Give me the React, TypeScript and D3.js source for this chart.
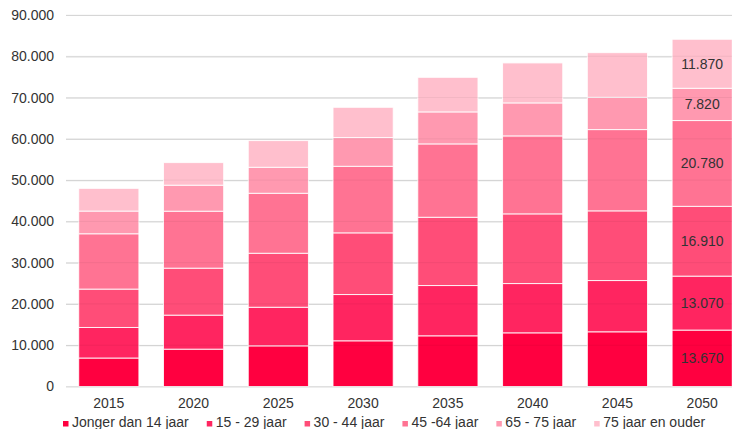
// Bevolking naar leeftijdsgroep — stacked bar chart
import React, { useEffect, useRef } from "react";
import * as d3 from "d3";

const years = ["2015", "2020", "2025", "2030", "2035", "2040", "2045", "2050"];
const groups = ["Jonger dan 14 jaar", "15 - 29 jaar", "30 - 44 jaar", "45 -64 jaar", "65 - 75 jaar", "75 jaar en ouder"];
const jonger14 = [6900, 9050, 9850, 11070, 12280, 13000, 13250, 13670];
const j15to29 = [7400, 8240, 9350, 11210, 12180, 11940, 12420, 13070];
const j30to44 = [9300, 11380, 13080, 14940, 16540, 16880, 16880, 16910];
const j45to64 = [13400, 13800, 14530, 16130, 17770, 18890, 19690, 20780];
const j65to75 = [5500, 6300, 6300, 6950, 7750, 7990, 7820, 7820];
const j75plus = [5500, 5470, 6460, 7340, 8380, 9690, 10820, 11870];
const yTicks = [0, 10000, 20000, 30000, 40000, 50000, 60000, 70000, 80000, 90000];
const labelledYear = "2050";

const colors = ["#ff0040", "#ff2560", "#ff4d78", "#ff7393", "#ff99b0", "#ffbfcd"];

const fmt = (v: number) => d3.format(",")(v).replace(/,/g, ".");

const App: React.FC = () => {
  const svgRef = useRef<SVGSVGElement>(null);

  useEffect(() => {
    if (!svgRef.current) return;
    const W = 732, H = 429;
    const font = "'Liberation Sans', Arial, sans-serif";

    const svg = d3.select(svgRef.current);
    svg.selectAll("*").remove();

    const series = [jonger14, j15to29, j30to44, j45to64, j65to75, j75plus];
    const rows = years.map((yr, i) => {
      const r: Record<string, any> = { year: yr };
      groups.forEach((g, k) => (r[g] = series[k][i]));
      return r;
    });
    const stacked = d3.stack<any>().keys(groups)(rows);

    const x = d3.scaleBand()
      .domain(years)
      .range([66, 745])
      .paddingInner(0.29)
      .paddingOuter(0.15);

    const y = d3.scaleLinear()
      .domain([0, 90000])
      .range([386.5, 15]);

    // Grid + y labels
    const grid = svg.append("g")
      .attr("transform", "translate(66,0)")
      .call(d3.axisLeft(y).tickValues(yTicks).tickSize(-(W - 66)).tickPadding(12).tickFormat(d => fmt(+d)))
      .call(g => g.select(".domain").remove())
      .call(g => g.selectAll(".tick line").attr("stroke", "#dcdcdc").attr("stroke-width", 1.2))
      .call(g => g.selectAll(".tick text")
        .attr("fill", "#333").attr("font-size", 14).attr("font-family", font));
    grid.attr("font-family", font);

    // Bars
    svg.append("g")
      .selectAll("g")
      .data(stacked)
      .join("g")
      .attr("fill", (_, i) => colors[i])
      .selectAll("rect")
      .data(d => d)
      .join("rect")
      .attr("x", d => x(d.data.year)!)
      .attr("y", d => y(d[1]))
      .attr("width", x.bandwidth())
      .attr("height", d => y(d[0]) - y(d[1]))
      .attr("stroke", "#fff")
      .attr("stroke-opacity", 0.85)
      .attr("stroke-width", 1);

    // faint grid showing through the bars
    svg.append("g")
      .selectAll("line")
      .data(yTicks)
      .join("line")
      .attr("x1", 66).attr("x2", W)
      .attr("y1", d => y(d)).attr("y2", d => y(d))
      .attr("stroke", "rgba(0,0,0,0.05)")
      .attr("stroke-width", 1);

    // Value labels on last bar
    svg.append("g")
      .selectAll("text")
      .data(stacked.map(s => s.find(p => p.data.year === labelledYear)!))
      .join("text")
      .attr("x", d => x(d.data.year)! + x.bandwidth() / 2)
      .attr("y", d => (y(d[0]) + y(d[1])) / 2)
      .attr("dy", "0.36em")
      .attr("text-anchor", "middle")
      .attr("font-family", font)
      .attr("font-size", 14)
      .attr("fill", "#333")
      .text(d => fmt(d[1] - d[0]));

    // X labels
    svg.append("g")
      .selectAll("text")
      .data(years)
      .join("text")
      .attr("x", d => x(d)! + x.bandwidth() / 2)
      .attr("y", 408)
      .attr("text-anchor", "middle")
      .attr("font-family", font)
      .attr("font-size", 14)
      .attr("fill", "#333")
      .text(d => d);

    // Legend
    const legend = svg.append("g");
    let lx = 63;
    groups.forEach((g, i) => {
      legend.append("rect")
        .attr("x", lx).attr("y", 421)
        .attr("width", 5.5).attr("height", 5.5)
        .attr("fill", colors[i]);
      const t = legend.append("text")
        .attr("x", lx + 9).attr("y", 427)
        .attr("font-family", font)
        .attr("font-size", 14)
        .attr("fill", "#333")
        .text(g);
      const w = (t.node() as SVGTextElement).getComputedTextLength();
      lx += 9 + w + 18;
    });
    void H;
  }, []);

  return (
    <svg
      ref={svgRef}
      width={732}
      height={429}
      style={{ position: "absolute", left: 0, top: 0, background: "#fff", overflow: "hidden" }}
    />
  );
};

export default App;
